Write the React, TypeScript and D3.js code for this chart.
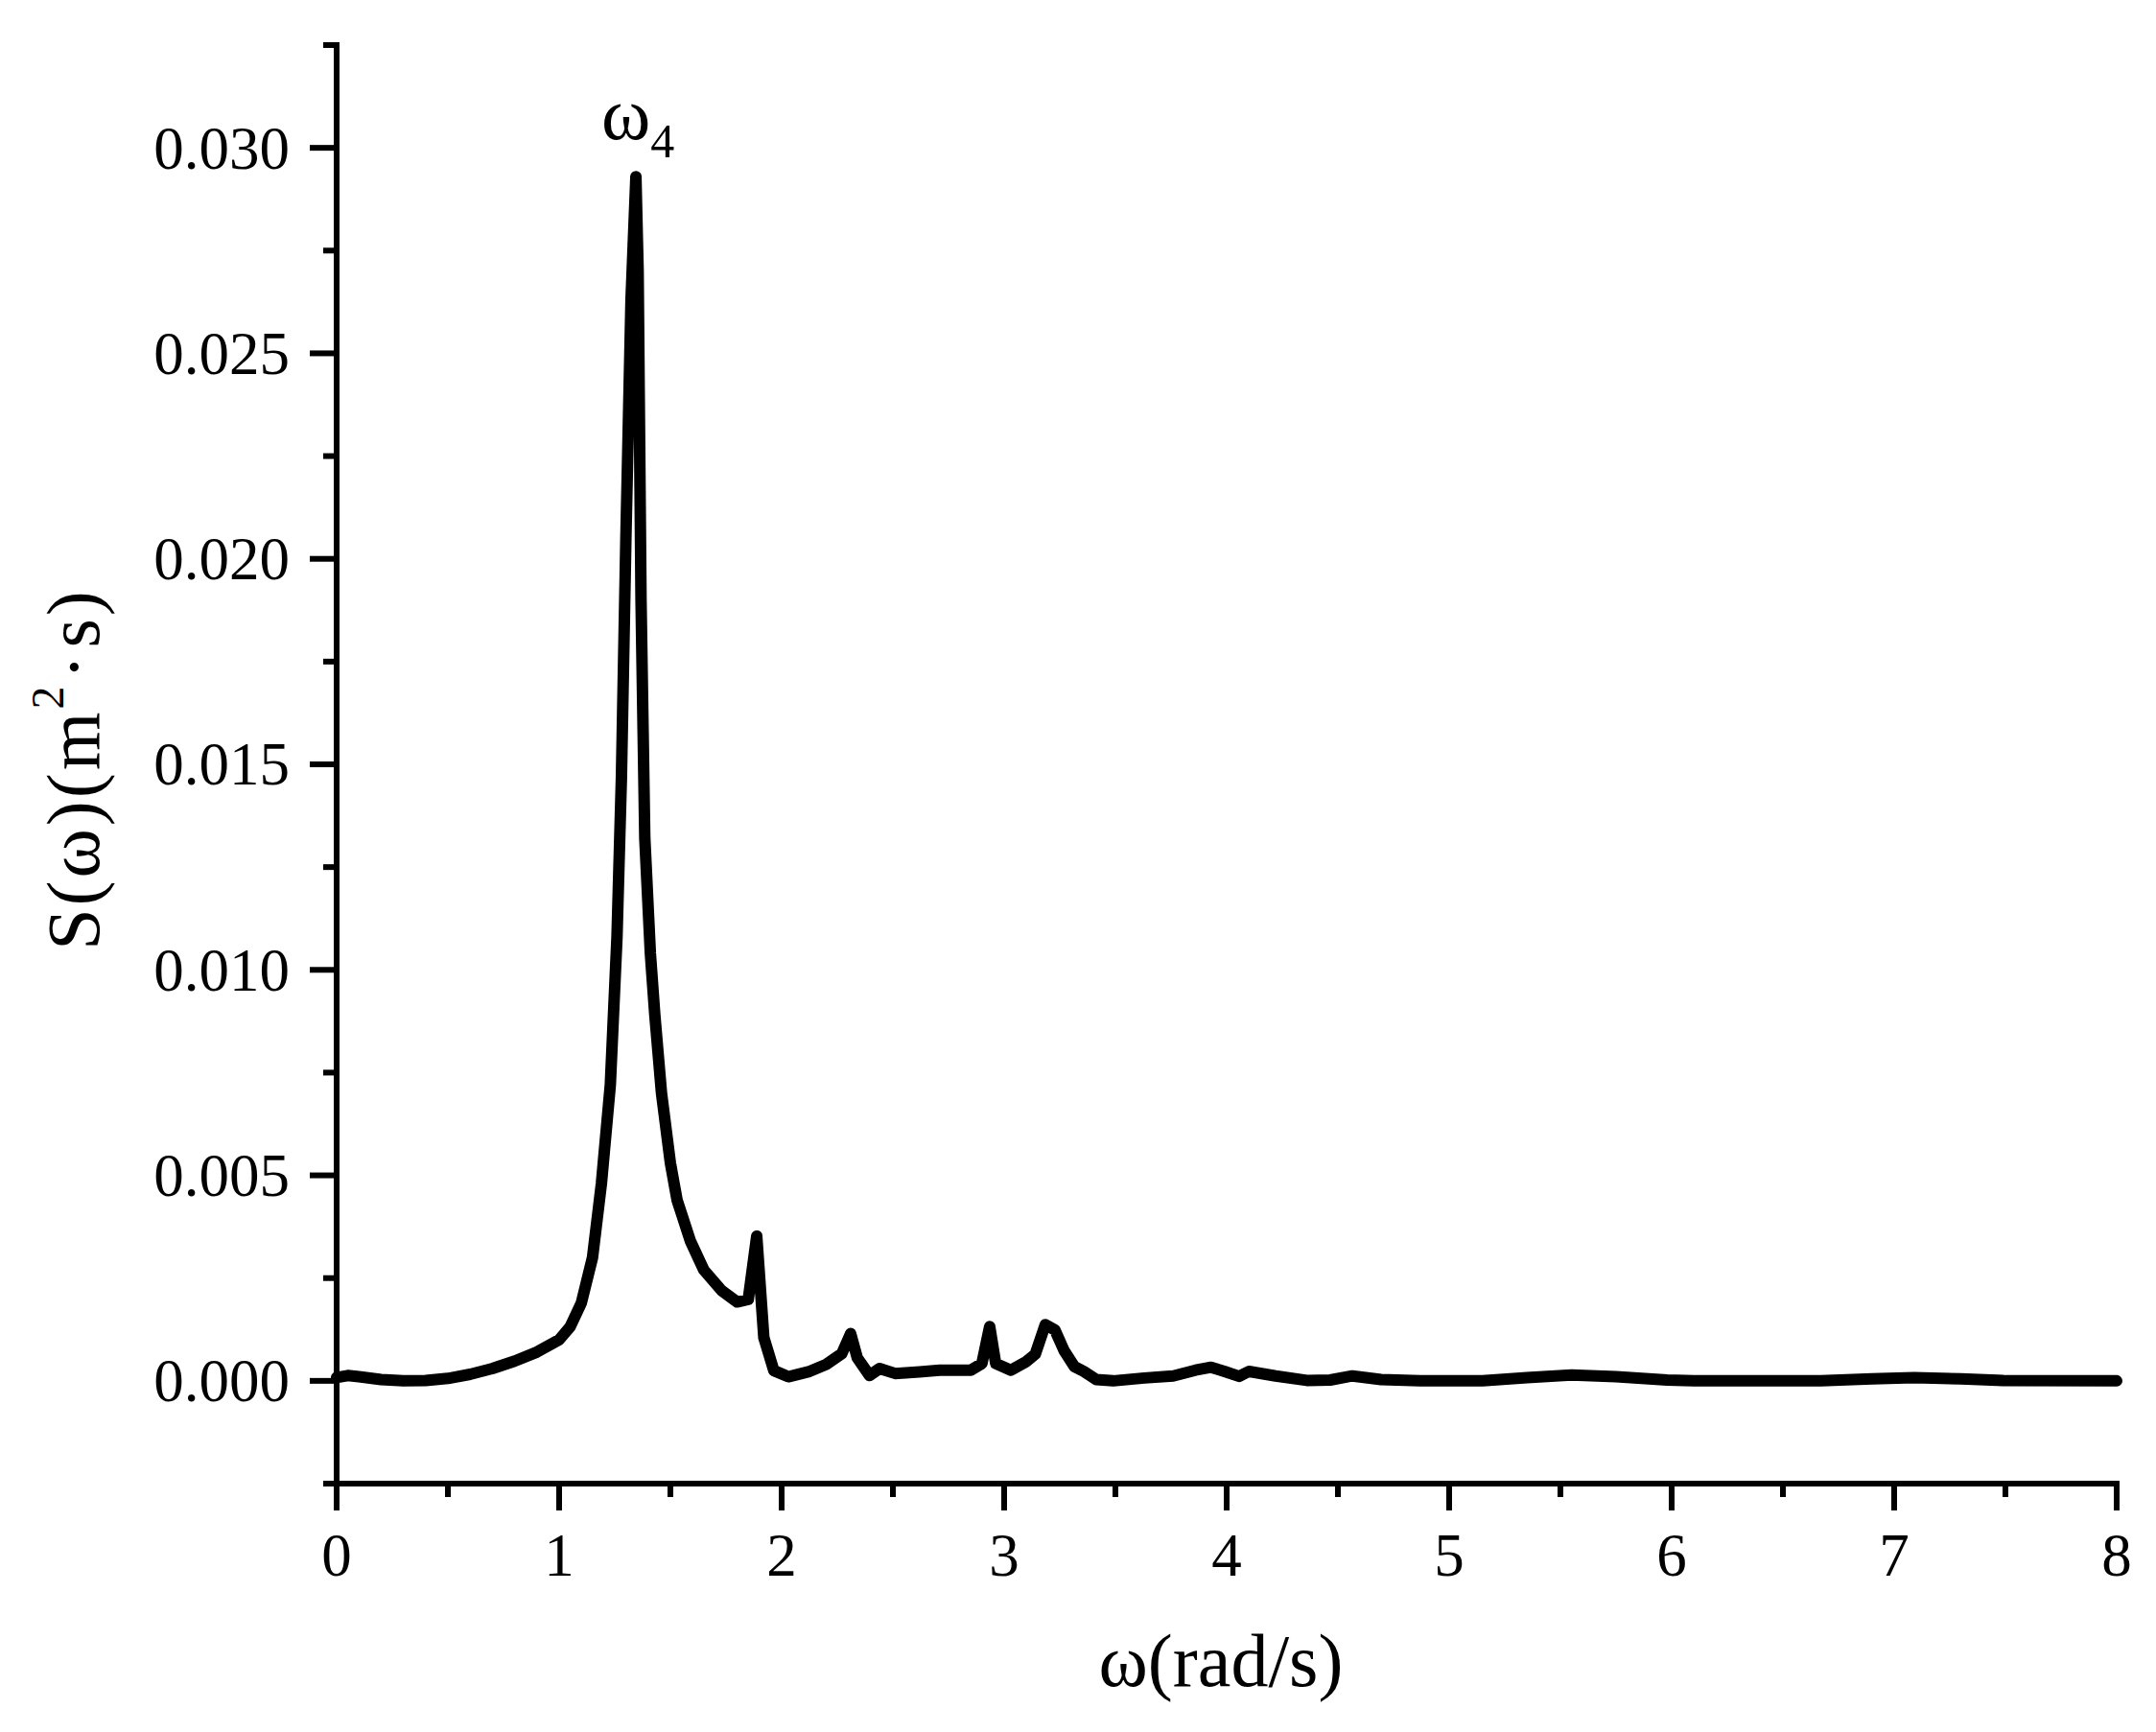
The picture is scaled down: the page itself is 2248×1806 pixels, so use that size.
import React from "react";
import * as d3 from "d3";

// Spectrum data: omega (rad/s) and S(omega) (m^2·s)
const omega: number[] = [
  0.0, 0.05, 0.1, 0.2, 0.3, 0.4, 0.5, 0.6, 0.7, 0.8, 0.9, 1.0, 1.05, 1.1, 1.15, 1.19, 1.23, 1.26, 1.28, 1.3,
  1.323, 1.345, 1.355, 1.368, 1.385, 1.41, 1.43, 1.46, 1.5, 1.53, 1.59, 1.65, 1.73, 1.8, 1.85, 1.888, 1.92,
  1.965, 2.03, 2.12, 2.2, 2.27, 2.31, 2.34, 2.395, 2.44, 2.51, 2.62, 2.71, 2.85, 2.9, 2.935, 2.962, 3.03,
  3.1, 3.14, 3.185, 3.228, 3.27, 3.315, 3.358, 3.414, 3.49, 3.63, 3.76, 3.86, 3.93, 3.99, 4.056, 4.1, 4.22,
  4.36, 4.465, 4.565, 4.694, 4.87, 5.15, 5.35, 5.55, 5.75, 5.98, 6.1, 6.67, 6.9, 7.09, 7.3, 7.49, 8.0,
];
const spectrum: number[] = [
  0.00008, 0.00013, 0.0001, 0.00003, 0.0, 0.00001, 0.00006, 0.00016, 0.0003, 0.00048, 0.0007, 0.001, 0.00132,
  0.0019, 0.003, 0.0048, 0.0072, 0.0108, 0.0147, 0.0205, 0.0263, 0.0293, 0.027, 0.019, 0.0132, 0.0104, 0.0089,
  0.007, 0.0053, 0.0044, 0.0034, 0.0027, 0.0022, 0.00192, 0.00198, 0.00352, 0.00105, 0.00025, 0.0001, 0.00022,
  0.0004, 0.00066, 0.00115, 0.00056, 0.00013, 0.0003, 0.00018, 0.00022, 0.00026, 0.00026, 0.00042, 0.00132,
  0.00042, 0.00026, 0.00047, 0.00065, 0.00137, 0.00124, 0.00073, 0.00035, 0.00023, 0.00003, 0.0, 0.00007,
  0.00012, 0.00026, 0.00033, 0.00023, 0.00011, 0.00023, 0.00012, 0.00001, 0.00002, 0.00012, 0.00003, 0.0, 0.0,
  0.00008, 0.00014, 0.0001, 0.00002, 0.0, 0.0, 0.00005, 0.00008, 0.00005, 0.00001, 0.0,
];

const xTickValues: number[] = [0, 1, 2, 3, 4, 5, 6, 7, 8];
const yTickValues: number[] = [0, 0.005, 0.01, 0.015, 0.02, 0.025, 0.03];
const yTickLabels: string[] = ["0.000", "0.005", "0.010", "0.015", "0.020", "0.025", "0.030"];
const xDomain: [number, number] = [0, 8];
const yDomain: [number, number] = [-0.0025, 0.0325];

const FONT = '"Liberation Serif", "Times New Roman", Times, serif';

export default function App() {
  const W = 2248;
  const H = 1806;
  const left = 351;
  const right = 2207;
  const top = 47;
  const bottom = 1547;

  const x = d3.scaleLinear().domain(xDomain).range([left, right]);
  const y = d3.scaleLinear().domain(yDomain).range([bottom, top]);

  const pts: [number, number][] = omega.map((w, i) => [w, spectrum[i]]);
  const line = d3
    .line<[number, number]>()
    .x((d) => x(d[0]))
    .y((d) => y(d[1]))
    .curve(d3.curveLinear);

  const xMinor = d3.range(0.5, 8, 1);
  const yMinor = d3.range(-0.0025, 0.0326, 0.005);

  const axisW = 6;
  const majorLen = 28;
  const minorLen = 14;
  const tickFont = 63;
  const titleFont = 78;

  return (
    <svg
      width={W}
      height={H}
      viewBox={`0 0 ${W} ${H}`}
      style={{ position: "absolute", left: 0, top: 0, display: "block", background: "#fff" }}
    >
      <rect x={0} y={0} width={W} height={H} fill="#fff" />
      {/* data line */}
      <path
        d={line(pts) || ""}
        fill="none"
        stroke="#000"
        strokeWidth={12}
        strokeLinejoin="round"
        strokeLinecap="round"
      />
      {/* axes */}
      <line x1={left} y1={bottom} x2={left} y2={top} stroke="#000" strokeWidth={axisW} strokeLinecap="square" />
      <line x1={left} y1={bottom} x2={right} y2={bottom} stroke="#000" strokeWidth={axisW} strokeLinecap="square" />
      {/* x ticks */}
      {xTickValues.map((t) => (
        <g key={"xt" + t}>
          <line x1={x(t)} x2={x(t)} y1={bottom} y2={bottom + majorLen} stroke="#000" strokeWidth={axisW} />
          <text
            x={x(t)}
            y={bottom + 96}
            textAnchor="middle"
            fontFamily={FONT}
            fontSize={tickFont}
            fill="#000"
          >
            {String(t)}
          </text>
        </g>
      ))}
      {xMinor.map((t) => (
        <line key={"xm" + t} x1={x(t)} x2={x(t)} y1={bottom} y2={bottom + minorLen} stroke="#000" strokeWidth={axisW} />
      ))}
      {/* y ticks */}
      {yTickValues.map((t, i) => (
        <g key={"yt" + t}>
          <line x1={left} x2={left - majorLen} y1={y(t)} y2={y(t)} stroke="#000" strokeWidth={axisW} />
          <text
            x={left - 49}
            y={y(t)}
            dy="0.34em"
            textAnchor="end"
            fontFamily={FONT}
            fontSize={tickFont}
            fill="#000"
          >
            {yTickLabels[i]}
          </text>
        </g>
      ))}
      {yMinor.map((t) => (
        <line key={"ym" + t} x1={left} x2={left - minorLen} y1={y(t)} y2={y(t)} stroke="#000" strokeWidth={axisW} />
      ))}
      {/* x title */}
      <text x={1273} y={1758} textAnchor="middle" fontFamily={FONT} fontSize={titleFont} fill="#000">
        ω(rad/s)
      </text>
      {/* y title */}
      <text
        transform="translate(103,802) rotate(-90)"
        textAnchor="middle"
        fontFamily={FONT}
        fontSize={titleFont}
        letterSpacing={3}
        fill="#000"
      >
        <tspan>S(ω)(m</tspan>
        <tspan fontSize={48} dy={-37}>2</tspan>
        <tspan dx={4} dy={37}>·</tspan>
        <tspan dx={4}>s)</tspan>
      </text>
      {/* peak annotation */}
      <text x={627} y={145} fontFamily={FONT} fontSize={titleFont} fill="#000">
        <tspan>ω</tspan>
        <tspan fontSize={50} dy={19}>4</tspan>
      </text>
    </svg>
  );
}
